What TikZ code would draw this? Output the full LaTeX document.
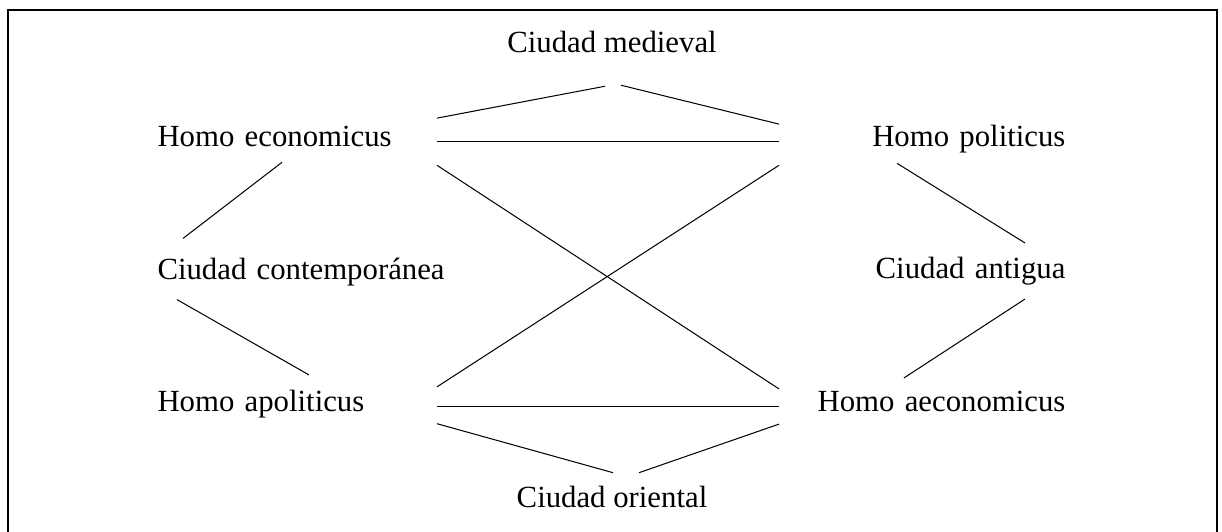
\documentclass[tikz,border=0pt]{standalone}
\usepackage{fontspec}
\setmainfont{Liberation Serif}
\usetikzlibrary{calc}
\tikzset{
	lado/.style={inner sep=0pt, text height=8pt, text depth=4.1pt, minimum height=18pt, text width=#1},
	izq/.style={lado=108.8pt, align=left, anchor=east},
	der/.style={lado=111.5pt, align=right, anchor=west},
	cen/.style={inner sep=0pt, text height=8pt, text depth=2.5pt, anchor=base},
	enlace/.style={line width=0.4pt, color=black}
}
\begin{document}
\begin{tikzpicture}[x=0.39pt, y=-0.39pt, font=\fontsize{12}{14}\selectfont]
		%%%%% START %%%%%
		
		\clip (0, 0) rectangle (1222, 531);
		\draw[line width=0.8pt] (8, 10) rectangle (1217, 560);
		
		\node[cen] (med) at (612, 52.3) {Ciudad medieval};
		\node[izq] (econ) at (437, 141.7) {Homo economicus};
		\node[der] (pol) at (779, 141.7) {Homo politicus};
		\node[izq] (cont) at (437, 274) {\mbox{Ciudad contemporánea}};
		\node[der] (ant) at (779, 273.5) {Ciudad antigua};
		\node[izq] (apol) at (437, 406.5) {Homo apoliticus};
		\node[der] (aecon) at (779, 406.5) {Homo aeconomicus};
		\node[cen] (ori) at (612, 507.7) {Ciudad oriental};
		
		\draw[enlace] (econ.north east) -- ($(med.south)+(-7, 27)$);
		\draw[enlace] ($(med.south)+(9, 26)$) -- (pol.173);
		\draw[enlace] (econ.east) -- (pol.west);
		\draw[enlace] (econ.south east) -- (aecon.173);
		\draw[enlace] (pol.south west) -- (apol.8);
		\draw[enlace] (apol.east) -- (aecon.west);
		\draw[enlace] (apol.-7) -- ($(ori.north)+(1, -14)$);
		\draw[enlace] ($(ori.north)+(27, -14)$) -- (aecon.187);
		
		\draw[enlace] ($(econ.south)+(-15, -3)$) -- ($(cont.north west)+(26, -12)$);
		\draw[enlace] ($(cont.south west)+(20, 2)$) -- ($(apol.north west)+(152, -8)$);
		\draw[enlace] ($(pol.south west)+(118, -2)$) -- ($(ant.north east)+(-41, -7)$);
		\draw[enlace] ($(ant.south east)+(-41, 2)$) -- ($(aecon.north west)+(125, -5)$);
		
		%%%%% END %%%%%
	\end{tikzpicture}
\end{document}
